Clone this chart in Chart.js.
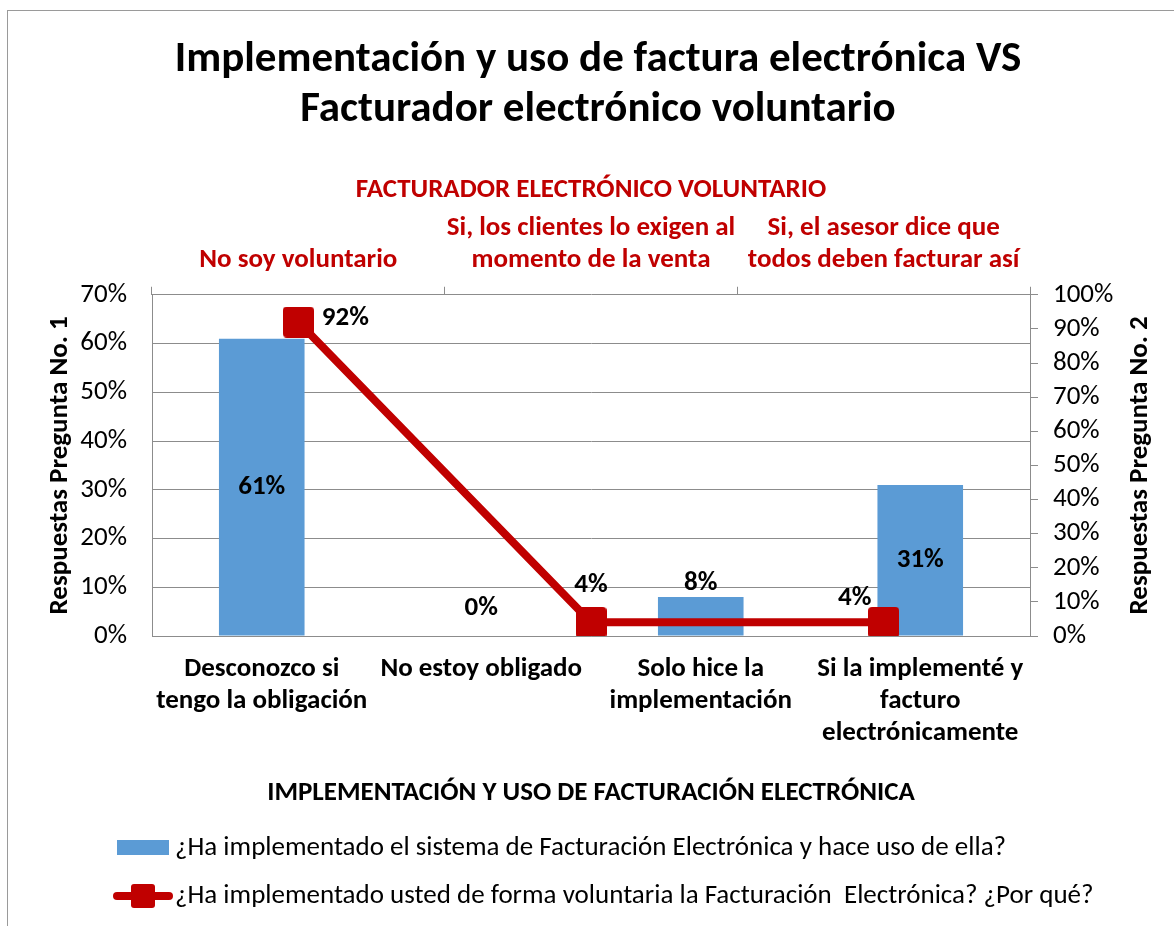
<!DOCTYPE html>
<html>
<head>
<meta charset="utf-8">
<script src="https://cdn.jsdelivr.net/npm/chart.js@4"></script>
<style>
  html, body { margin: 0; padding: 0; background: #fff; }
  #wrap { position: relative; width: 1174px; height: 926px; }
  #frame { position: absolute; left: 7px; top: 10px; right: -2px; bottom: -2px; border-left: 1px solid #9a9a9a; border-top: 1px solid #9a9a9a; }
  canvas { position: absolute; left: 0; top: 0; }
</style>
</head>
<body>
<div id="wrap">
  <div id="frame"></div>
  <canvas id="facturaChart" width="1174" height="926"></canvas>
</div>
<script>
//<datos>
const categoriasUso = [
    ['Desconozco si', 'tengo la obligación'],
    ['No estoy obligado'],
    ['Solo hice la', 'implementación'],
    ['Si la implementé y', 'facturo', 'electrónicamente']
]
const respuestasUso = [61, 0, 8, 31]          // Pregunta No. 1 (%)

const categoriasVoluntario = [
    ['No soy voluntario'],
    ['Si, los clientes lo exigen al', 'momento de la venta'],
    ['Si, el asesor dice que', 'todos deben facturar así']
]
const respuestasVoluntario = [92, 4, 4]       // Pregunta No. 2 (%)

const ticksIzq = [0, 10, 20, 30, 40, 50, 60, 70]
const ticksDer = [0, 10, 20, 30, 40, 50, 60, 70, 80, 90, 100]

const serie1 = '¿Ha implementado el sistema de Facturación Electrónica y hace uso de ella?'
const serie2 = '¿Ha implementado usted de forma voluntaria la Facturación  Electrónica? ¿Por qué?'

const FONT = 'Carlito, Calibri, Lato, sans-serif'
const AZUL = '#5b9bd5'
const ROJO = '#c00000'
const GRIS = '#8c8c8c'

// cuadro redondeado para el marcador de la linea
function cuadroRedondeado(lado, radio) {
    const c = document.createElement('canvas')
    c.width = lado
    c.height = lado
    const g = c.getContext('2d')
    g.fillStyle = ROJO
    g.beginPath()
    g.roundRect(0, 0, lado, lado, radio)
    g.fill()
    return c
}
const marcador = cuadroRedondeado(31, 4)
const marcadorLeyenda = cuadroRedondeado(24, 3)

// etiquetas de datos (Excel las colocó a mano)
const etiquetasDatos = {
    id: 'etiquetasDatos',
    afterDatasetsDraw(chart) {
        const ctx = chart.ctx
        ctx.save()
        ctx.font = 'bold 27px ' + FONT
        ctx.fillStyle = '#000'
        ctx.textBaseline = 'middle'
        ctx.textAlign = 'center'

        // barras
        const barras = chart.getDatasetMeta(0).data
        barras.forEach((bar, i) => {
            const v = respuestasUso[i]
            let y
            if (v > 20) y = (bar.y + bar.base) / 2
            else y = bar.y - (v === 0 ? 28 : 14)
            ctx.fillText(v + '%', bar.x, y)
        })

        // linea
        const puntos = chart.getDatasetMeta(1).data
        puntos.forEach((p, i) => {
            const v = respuestasVoluntario[i]
            let dx = 0, dy = -37
            if (i === 0) { dx = 47; dy = -4 }
            if (i === 2) { dx = -29; dy = -24 }
            ctx.fillText(v + '%', p.x + dx, p.y + dy)
        })

        // titulo del eje derecho (leido de abajo hacia arriba, como en Excel)
        const a = chart.chartArea
        ctx.font = 'bold 27px ' + FONT
        ctx.translate(1140, (a.top + a.bottom) / 2)
        ctx.rotate(-Math.PI / 2)
        ctx.fillText('Respuestas Pregunta No. 2', 0, 0)
        ctx.restore()
    }
}

// leyenda en dos filas alineadas a la izquierda
const leyenda = {
    id: 'leyenda',
    afterDraw(chart) {
        const ctx = chart.ctx
        const x0 = 117
        const filas = [848, 896]
        ctx.save()
        ctx.font = '27px ' + FONT
        ctx.textBaseline = 'middle'

        ctx.fillStyle = AZUL
        ctx.fillRect(x0, filas[0] - 8, 52, 15)
        ctx.fillStyle = '#000'
        ctx.fillText(chart.data.datasets[0].label, x0 + 58, filas[0])

        ctx.strokeStyle = ROJO
        ctx.lineWidth = 8
        ctx.lineCap = 'round'
        ctx.beginPath()
        ctx.moveTo(x0, filas[1])
        ctx.lineTo(x0 + 52, filas[1])
        ctx.stroke()
        ctx.drawImage(marcadorLeyenda, x0 + 14, filas[1] - 12)
        ctx.fillStyle = '#000'
        ctx.fillText(chart.data.datasets[1].label, x0 + 58, filas[1])
        ctx.restore()
    }
}

Chart.defaults.font.family = FONT
Chart.defaults.color = '#000'

var facturaChart = new Chart(
    document.getElementById('facturaChart'),
    {
        type: 'bar',
        data: {
            labels: categoriasUso,
            datasets: [
                {
                    label: serie1,
                    data: respuestasUso,
                    backgroundColor: AZUL,
                    barPercentage: 0.39,
                    categoryPercentage: 1,
                    grouped: false,
                    xAxisID: 'x',
                    yAxisID: 'y',
                    order: 2
                },
                {
                    type: 'line',
                    label: serie2,
                    data: respuestasVoluntario,
                    borderColor: ROJO,
                    backgroundColor: ROJO,
                    borderWidth: 8,
                    pointStyle: marcador,
                    pointRadius: 16,
                    pointHoverRadius: 16,
                    xAxisID: 'x2',
                    yAxisID: 'y2',
                    order: 1
                }
            ]
        },
        options: {
            responsive: false,
            animation: false,
            layout: {
                padding: { left: 40, right: 18, top: 28, bottom: 117 }
            },
            plugins: {
                title: {
                    display: true,
                    text: ['Implementación y uso de factura electrónica VS', 'Facturador electrónico voluntario'],
                    color: '#000',
                    font: { size: 43, weight: 'bold', lineHeight: 1.16 },
                    padding: { top: 7, bottom: 39 }
                },
                legend: { display: false },
                tooltip: { enabled: false }
            },
            scales: {
                x: {
                    position: 'bottom',
                    grid: { display: false },
                    border: { display: true, color: GRIS },
                    ticks: { font: { size: 27, weight: 'bold', lineHeight: 1.19 }, padding: 9, maxRotation: 0, autoSkip: false },
                    title: {
                        display: true,
                        text: 'IMPLEMENTACIÓN Y USO DE FACTURACIÓN ELECTRÓNICA',
                        font: { size: 27, weight: 'bold', lineHeight: 1.19 },
                        padding: { top: 10, bottom: 0 }
                    },
                    afterFit: axis => { axis.height = 173 }
                },
                x2: {
                    type: 'category',
                    position: 'top',
                    labels: categoriasVoluntario,
                    offset: true,
                    grid: { display: true, drawOnChartArea: false, color: GRIS, tickLength: 8, offset: true },
                    border: { display: false },
                    ticks: { font: { size: 27, weight: 'bold', lineHeight: 1.19 }, color: ROJO, padding: 10, maxRotation: 0, autoSkip: false },
                    title: {
                        display: true,
                        text: 'FACTURADOR ELECTRÓNICO VOLUNTARIO',
                        color: ROJO,
                        font: { size: 27, weight: 'bold', lineHeight: 1.19 },
                        padding: { top: 0, bottom: 0 }
                    },
                    afterFit: axis => { axis.height = 121 }
                },
                y: {
                    position: 'left',
                    min: 0,
                    max: 70,
                    afterBuildTicks: axis => { axis.ticks = ticksIzq.map(v => ({ value: v })) },
                    grid: { color: GRIS, drawTicks: false },
                    border: { display: true, color: GRIS },
                    ticks: { font: { size: 27 }, padding: 25, autoSkip: false, callback: v => v + '%' },
                    title: {
                        display: true,
                        text: 'Respuestas Pregunta No. 1',
                        font: { size: 27, weight: 'bold', lineHeight: 1.19 },
                        padding: { top: 4, bottom: 6 }
                    },
                    afterFit: axis => { axis.width = 112 }
                },
                y2: {
                    position: 'right',
                    min: 0,
                    max: 100,
                    afterBuildTicks: axis => { axis.ticks = ticksDer.map(v => ({ value: v })) },
                    grid: { drawOnChartArea: false, color: GRIS, tickLength: 8 },
                    border: { display: true, color: GRIS },
                    ticks: { font: { size: 27 }, padding: 15, autoSkip: false, callback: v => v + '%' },
                    title: { display: false },
                    afterFit: axis => { axis.width = 126 }
                }
            }
        },
        plugins: [etiquetasDatos, leyenda]
    }
);
</script>
</body>
</html>
